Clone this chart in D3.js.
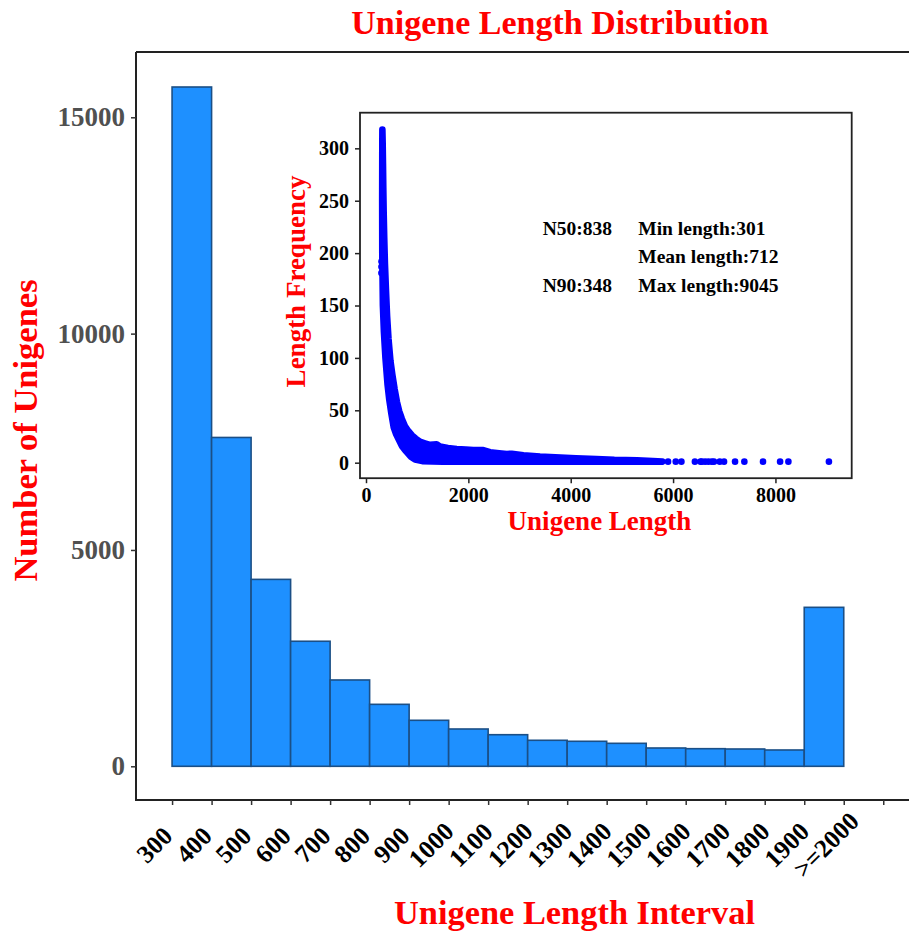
<!DOCTYPE html>
<html>
<head>
<meta charset="utf-8">
<script src="https://cdn.jsdelivr.net/npm/d3@7"></script>
<style>
body { margin: 0; background: #fff; }
svg text { font-family: "Liberation Serif", "Times New Roman", serif; font-weight: bold; }
</style>
</head>
<body>
<svg id="chart" width="909" height="931"></svg>
<script>
// ---- histogram data (100bp bins, last bin is >=2000) ----
const binStart = [300, 400, 500, 600, 700, 800, 900, 1000, 1100, 1200, 1300, 1400, 1500, 1600, 1700, 1800, 1900];
const binCount = [15700, 7600, 4320, 2890, 1995, 1432, 1063, 862, 730, 601, 578, 531, 423, 407, 400, 377, 3674];
const xTickVals = [300, 400, 500, 600, 700, 800, 900, 1000, 1100, 1200, 1300, 1400, 1500, 1600, 1700, 1800, 1900, 2000, 2100];
const xTickText = ["300", "400", "500", "600", "700", "800", "900", "1000", "1100", "1200", "1300", "1400", "1500", "1600", "1700", "1800", "1900", ">=2000", ""];
const yTickVals = [0, 5000, 10000, 15000];

// ---- inset: length frequency cloud ----
// upper edge of the dense cloud [length, frequency]
const cloudUpper = [[320, 318], [326, 305], [332, 285], [338, 262], [345, 240], [356, 215], [370, 190], [390, 165],
  [412, 140], [440, 118], [478, 97], [515, 84], [560, 70], [605, 58], [650, 49], [700, 42], [760, 35], [830, 30],
  [900, 26], [970, 23], [1055, 20], [1150, 18.5], [1250, 17], [1381, 17.5], [1446, 15.5], [1600, 14], [1772, 13],
  [1950, 12.5], [2097, 12], [2292, 12], [2423, 10], [2600, 9], [2749, 8.3], [2847, 8.6], [3075, 7], [3400, 5.8],
  [3700, 5.2], [4104, 4.2], [4500, 3.5], [4852, 2.7], [5300, 2.2], [5603, 1.6], [5791, 1]];
// lower edge of the dense cloud
const cloudLower = [[318, 300], [316, 250], [318, 200], [330, 150], [350, 125], [380, 100], [420, 75], [455, 60],
  [495, 47], [540, 34], [590, 27], [640, 22], [700, 16], [780, 11], [870, 6], [960, 3], [1100, 1.5], [1500, 1], [5791, 1]];
// single dots outside the cloud
const loneDots = [[301, 181], [302, 187], [303, 192], [5902, 1], [6052, 1], [6163, 1], [6426, 1], [6537, 1], [6560, 1],
  [6625, 1], [6690, 1], [6756, 1], [6799, 1], [6912, 1], [6996, 1], [7211, 1], [7393, 1], [7757, 1], [8091, 1],
  [8253, 1], [9045, 1]];
const insetXTicks = [0, 2000, 4000, 6000, 8000];
const insetYTicks = [0, 50, 100, 150, 200, 250, 300];
const statsLeft = ["N50:838", "", "N90:348"];
const statsRight = ["Min length:301", "Mean length:712", "Max length:9045"];

const svg = d3.select("#chart");
const red = "#ff0000";

// ---------- main histogram ----------
const m = {left: 136, top: 52, right: 960, bottom: 800};
const x = d3.scaleLinear().domain([208.7, 2300]).range([m.left, m.left + (2300 - 208.7) * 0.3951]);
const y = d3.scaleLinear().domain([-779, 16509]).range([m.bottom, m.top]);

svg.append("g").selectAll("rect")
    .data(binStart)
    .join("rect")
    .attr("x", (d) => x(d))
    .attr("y", (d, i) => y(binCount[i]))
    .attr("width", (d) => x(d + 100) - x(d))
    .attr("height", (d, i) => y(0) - y(binCount[i]))
    .attr("fill", "#1e90ff")
    .attr("stroke", "#1b4f86")
    .attr("stroke-width", 1.6);

// spines (right one falls outside the picture)
svg.append("path")
    .attr("d", `M${m.left},${m.top}H920M${m.left},${m.top}V${m.bottom}H920`)
    .attr("fill", "none").attr("stroke", "#222").attr("stroke-width", 2);

let yAxis = svg.append("g")
    .attr("transform", `translate(${m.left},0)`)
    .call(d3.axisLeft(y).tickValues(yTickVals).tickSize(5).tickPadding(6).tickFormat(d3.format("d")));
yAxis.select(".domain").remove();
yAxis.selectAll("line").attr("stroke", "#333").attr("stroke-width", 1.5);
yAxis.selectAll("text").attr("font-size", 27).attr("fill", "#505050").attr("font-family", null);

let xAxis = svg.append("g")
    .attr("transform", `translate(0,${m.bottom})`)
    .call(d3.axisBottom(x).tickValues(xTickVals).tickSize(5).tickFormat((d, i) => xTickText[i]));
xAxis.select(".domain").remove();
xAxis.selectAll("line").attr("stroke", "#333").attr("stroke-width", 1.5);
xAxis.selectAll("text")
    .attr("font-size", 25.5).attr("fill", "#000").attr("font-family", null)
    .attr("text-anchor", "middle").attr("dy", null).attr("y", null)
    .attr("dominant-baseline", "central")
    .attr("transform", "translate(-18,45) rotate(-45)");

svg.append("text")
    .attr("x", 560).attr("y", 34)
    .attr("text-anchor", "middle").attr("font-size", 34).attr("fill", red)
    .text("Unigene Length Distribution");
svg.append("text")
    .attr("transform", "translate(37,430.5) rotate(-90)")
    .attr("text-anchor", "middle").attr("font-size", 34.5).attr("fill", red)
    .text("Number of Unigenes");
svg.append("text")
    .attr("x", 574.5).attr("y", 924)
    .attr("text-anchor", "middle").attr("font-size", 34.4).attr("fill", red)
    .text("Unigene Length Interval");

// ---------- inset scatter ----------
const ib = {left: 360, top: 112.7, right: 851.7, bottom: 478.2};
const ix = d3.scaleLinear().domain([-117.2, 9490]).range([ib.left, ib.right]);
const iy = d3.scaleLinear().domain([-14.8, 334]).range([ib.bottom, ib.top]);

let inset = svg.append("g").attr("id", "inset");
inset.append("rect")
    .attr("x", ib.left).attr("y", ib.top)
    .attr("width", ib.right - ib.left).attr("height", ib.bottom - ib.top)
    .attr("fill", "#fff");

let clip = inset.append("clipPath").attr("id", "insetClip");
clip.append("rect")
    .attr("x", ib.left).attr("y", ib.top)
    .attr("width", ib.right - ib.left).attr("height", ib.bottom - ib.top);

let cloud = cloudUpper.concat(cloudLower.slice().reverse());
let line = d3.line().x((d) => ix(d[0])).y((d) => iy(d[1]));
let dots = inset.append("g").attr("clip-path", "url(#insetClip)");
dots.append("path")
    .attr("d", line(cloud) + "Z")
    .attr("fill", "#0000ff")
    .attr("stroke", "#0000ff")
    .attr("stroke-width", 6.6)
    .attr("stroke-linejoin", "round");
dots.selectAll("circle")
    .data(loneDots)
    .join("circle")
    .attr("cx", (d) => ix(d[0]))
    .attr("cy", (d) => iy(d[1]))
    .attr("r", 3.3)
    .attr("fill", "#0000ff");

inset.append("rect")
    .attr("x", ib.left).attr("y", ib.top)
    .attr("width", ib.right - ib.left).attr("height", ib.bottom - ib.top)
    .attr("fill", "none").attr("stroke", "#222").attr("stroke-width", 1.8);

let iyAxis = inset.append("g")
    .attr("transform", `translate(${ib.left},0)`)
    .call(d3.axisLeft(iy).tickValues(insetYTicks).tickSize(5).tickPadding(6));
iyAxis.select(".domain").remove();
iyAxis.selectAll("line").attr("stroke", "#222").attr("stroke-width", 1.5);
iyAxis.selectAll("text").attr("font-size", 20).attr("fill", "#000").attr("font-family", null);

let ixAxis = inset.append("g")
    .attr("transform", `translate(0,${ib.bottom})`)
    .call(d3.axisBottom(ix).tickValues(insetXTicks).tickSize(5).tickPadding(5).tickFormat(d3.format("d")));
ixAxis.select(".domain").remove();
ixAxis.selectAll("line").attr("stroke", "#222").attr("stroke-width", 1.5);
ixAxis.selectAll("text").attr("font-size", 20).attr("fill", "#000").attr("font-family", null);

inset.append("text")
    .attr("transform", "translate(305,281.5) rotate(-90)")
    .attr("text-anchor", "middle").attr("font-size", 27).attr("fill", red)
    .text("Length Frequency");
inset.append("text")
    .attr("x", 599.5).attr("y", 530)
    .attr("text-anchor", "middle").attr("font-size", 27).attr("fill", red)
    .text("Unigene Length");

const statY = [235, 262.5, 291.5];
inset.selectAll("text.statL")
    .data(statsLeft)
    .join("text")
    .attr("class", "statL")
    .attr("x", 542.7).attr("y", (d, i) => statY[i])
    .attr("font-size", 19.5).attr("fill", "#000")
    .text((d) => d);
inset.selectAll("text.statR")
    .data(statsRight)
    .join("text")
    .attr("class", "statR")
    .attr("x", 638.3).attr("y", (d, i) => statY[i])
    .attr("font-size", 19.5).attr("fill", "#000")
    .text((d) => d);
</script>
</body>
</html>
